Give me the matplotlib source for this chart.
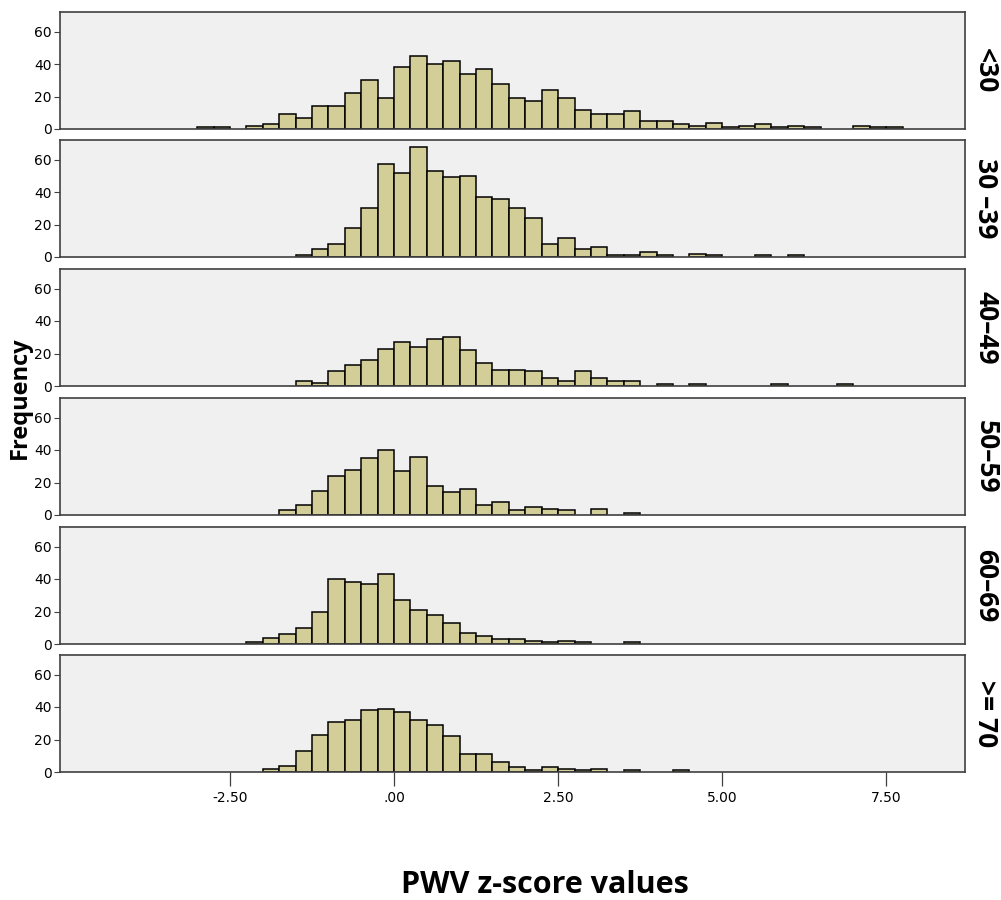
import numpy as np
import matplotlib
matplotlib.use("Agg")
import matplotlib.pyplot as plt

# Histogram bins of PWV z-score: left edge of the first bin and bin width
bin_start = -3.0
bin_width = 0.25

# Frequencies per bin (bin k covers [bin_start + k*w, bin_start + (k+1)*w))
counts_lt30 = [1, 1, 0, 2, 3, 9, 7, 14, 14, 22, 30, 19, 38, 45, 40, 42, 34, 37, 28, 19,
               17, 24, 19, 12, 9, 9, 11, 5, 5, 3, 2, 4, 1, 2, 3, 1, 2, 1, 0, 0, 2, 1, 1]
counts_30_39 = [0, 0, 0, 0, 0, 0, 1, 5, 8, 18, 30, 57, 52, 68, 53, 49, 50, 37, 36, 30,
                24, 8, 12, 5, 6, 1, 1, 3, 1, 0, 2, 1, 0, 0, 1, 0, 1]
counts_40_49 = [0, 0, 0, 0, 0, 0, 3, 2, 9, 13, 16, 23, 27, 24, 29, 30, 22, 14, 10, 10,
                9, 5, 3, 9, 5, 3, 3, 0, 1, 0, 1, 0, 0, 0, 0, 1, 0, 0, 0, 1]
counts_50_59 = [0, 0, 0, 0, 0, 3, 6, 15, 24, 28, 35, 40, 27, 36, 18, 14, 16, 6, 8, 3,
                5, 4, 3, 0, 4, 0, 1]
counts_60_69 = [0, 0, 0, 1, 4, 6, 10, 20, 40, 38, 37, 43, 27, 21, 18, 13, 7, 5, 3, 3,
                2, 1, 2, 1, 0, 0, 1]
counts_ge70 = [0, 0, 0, 0, 2, 4, 13, 23, 31, 32, 38, 39, 37, 32, 29, 22, 11, 11, 6, 3,
               1, 3, 2, 1, 2, 0, 1, 0, 0, 1]

group_labels = ["<30", "30 \u201339", "40\u201349", "50\u201359", "60\u201369", ">= 70"]
group_counts = [counts_lt30, counts_30_39, counts_40_49, counts_50_59, counts_60_69, counts_ge70]

x_ticks = [-2.5, 0.0, 2.5, 5.0, 7.5]
x_tick_labels = ["-2.50", ".00", "2.50", "5.00", "7.50"]
y_ticks = [0, 20, 40, 60]

bar_color = "#D3CE97"
panel_bg = "#F0F0F0"
frame_color = "#404040"

W, H = 1001, 900
fig = plt.figure(figsize=(W / 100, H / 100), dpi=100)

left_px, right_px = 60, 965
panel_tops = [12, 140, 269, 398, 527, 655]
panel_h = 117

axes = []
for i, (label, counts) in enumerate(zip(group_labels, group_counts)):
    top = panel_tops[i]
    ax = fig.add_axes([left_px / W, 1 - (top + panel_h) / H,
                       (right_px - left_px) / W, panel_h / H])
    ax.set_facecolor(panel_bg)
    counts = np.asarray(counts, dtype=float)
    lefts = bin_start + bin_width * np.arange(len(counts))
    keep = counts > 0
    ax.bar(lefts[keep], counts[keep], width=bin_width, align="edge",
           color=bar_color, edgecolor="black", linewidth=1.1, zorder=2)
    ax.set_xlim(-5.09, 8.70)
    ax.set_ylim(0, 72)
    ax.set_yticks(y_ticks)
    ax.set_yticklabels([str(v) for v in y_ticks], fontsize=10, family="DejaVu Sans")
    ax.tick_params(axis="y", direction="out", length=4, width=0.8, color="#404040", pad=2)
    for s in ax.spines.values():
        s.set_color(frame_color)
        s.set_linewidth(1.2)
    if i < len(group_labels) - 1:
        ax.set_xticks([])
    else:
        ax.set_xticks(x_ticks)
        ax.set_xticklabels(x_tick_labels, fontsize=10, family="DejaVu Sans")
        ax.tick_params(axis="x", direction="out", length=10, width=0.9, color="#404040", pad=4)
    ax.text(1.008, 0.5, label, transform=ax.transAxes, rotation=-90,
            ha="left", va="center", fontsize=19, fontweight="bold", family="Open Sans")
    axes.append(ax)

fig.text(20 / W, 1 - 398 / H, "Frequency", rotation=90, ha="center", va="center",
         fontsize=17, fontweight="bold", family="Open Sans")
fig.text(545 / W, 1 - 885 / H, "PWV z-score values", ha="center", va="center",
         fontsize=22, fontweight="bold", family="Open Sans")

fig.savefig("out.png", dpi=100, facecolor="white")
